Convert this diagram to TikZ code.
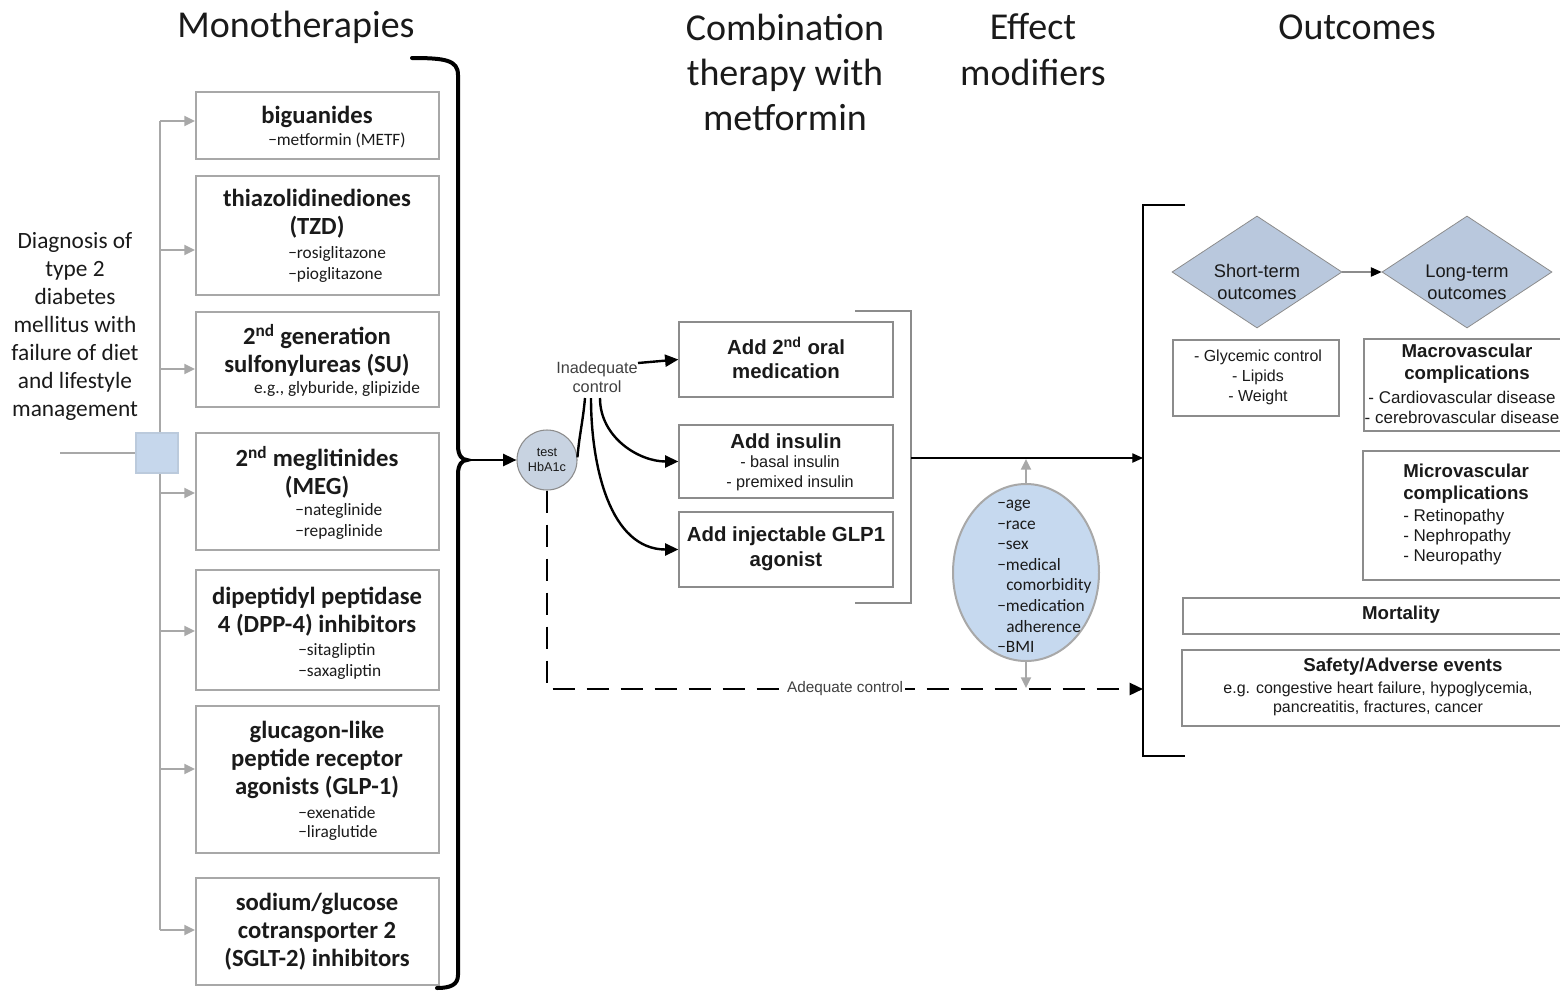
\documentclass[tikz,border=0pt]{standalone}
\usepackage{fontspec}
\setmainfont{Carlito}
\newfontfamily\arial{Liberation Sans}
\usetikzlibrary{arrows.meta,shapes.geometric,fit}
\newcommand{\myfs}[2]{\fontsize{#1}{#2}\selectfont}
\definecolor{lgray}{HTML}{A8A8A8}
\definecolor{mgray}{HTML}{8C8C8C}
\definecolor{sqblue}{HTML}{C6D7EC}
\definecolor{circfill}{HTML}{C8D3E1}
\definecolor{ellfill}{HTML}{C6D9EF}
\definecolor{diafill}{HTML}{B9C8DD}
\definecolor{ink}{HTML}{1A1A1A}
\begin{document}
\begin{tikzpicture}[x=0.75pt,y=-0.75pt,
  lbox/.style={draw=lgray, line width=1.5pt, inner sep=0pt},
  mbox/.style={draw=mgray, line width=0.9pt, inner sep=0pt},
  txt/.style={inner sep=0pt, align=center, text=ink},
  ttl/.style={txt, font=\myfs{28.5}{34}},
  lhead/.style={txt, font=\bfseries\myfs{18.5}{21}},
  lsub/.style={inner sep=0pt, align=left, anchor=west, text=ink, font=\myfs{13}{15.75}},
  gline/.style={draw=lgray, line width=1.5pt},
  garrow/.style={draw=lgray, line width=1.5pt, -{Triangle[length=8pt,width=7.5pt]}},
  karrow/.style={draw=black, line width=1.8pt, -{Triangle[length=10pt,width=9pt]}},
  tarrow/.style={draw=black, line width=0.8pt, -{Triangle[length=8pt,width=7pt]}},
  dline/.style={draw=black, line width=1.8pt, dash pattern=on 16.5pt off 9pt, -{Triangle[length=10pt,width=9pt]}},
  atxt/.style={txt, font=\arial\myfs{12}{15}},
  abold/.style={txt, font=\arial\bfseries\myfs{14}{16.5}}
]
\useasboundingbox (0,0) rectangle (1560,990);
\clip (0,0) rectangle (1560,990);

% titles
\node[ttl] (t1) at (296,27) {Monotherapies};
\node[ttl] (t2) at (785,72.5) {Combination\\therapy with\\metformin};
\node[ttl] (t3) at (1033,49.5) {Effect\\modifiers};
\node[ttl] (t4) at (1357,27) {Outcomes};

% diagnosis
\node[txt, font=\myfs{17.5}{21}] (dg) at (75,326) {Diagnosis of\\type 2\\diabetes\\mellitus with\\failure of diet\\and lifestyle\\management};

% left boxes
\node[lbox, fit={(196,92)(439,159)}] (b1) {};
\node[lhead] (b1h) at (317,117) {biguanides};
\node[lsub, anchor=center] (b1s) at (337,140) {−metformin (METF)};

\node[lbox, fit={(196,176)(439,295)}] (b2) {};
\node[lhead] (b2h) at (317,214) {thiazolidinediones\\(TZD)};
\node[lsub] (b2s) at (288,264.5) {−rosiglitazone\\−pioglitazone};

\node[lbox, fit={(196,312)(439,407)}] (b3) {};
\node[lhead] (b3h) at (317,350.5) {2\textsuperscript{nd} generation\\sulfonylureas (SU)};
\node[lsub, anchor=center] (b3s) at (337,389) {e.g., glyburide, glipizide};

\node[lbox, fit={(196,433)(439,550)}] (b4) {};
\node[lhead] (b4h) at (317,472.5) {2\textsuperscript{nd} meglitinides\\(MEG)};
\node[lsub] (b4s) at (295,521.5) {−nateglinide\\−repaglinide};

\node[lbox, fit={(196,570)(439,690)}] (b5) {};
\node[lhead] (b5h) at (317,612) {dipeptidyl peptidase\\4 (DPP-4) inhibitors};
\node[lsub] (b5s) at (298,661.5) {−sitagliptin\\−saxagliptin};

\node[lbox, fit={(196,706)(439,853)}] (b6) {};
\node[lhead] (b6h) at (317,760) {glucagon-like\\peptide receptor\\agonists (GLP-1)};
\node[lsub, font=\myfs{13}{14.25}] (b6s) at (298,823.5) {−exenatide\\−liraglutide};

\node[lbox, fit={(196,878)(439,985)}] (b7) {};
\node[lhead] (b7h) at (317,932) {sodium/glucose\\cotransporter 2\\(SGLT-2) inhibitors};

% tree
\coordinate (dstart) at (60,453);
\coordinate (vt) at (160,121);
\coordinate (vb) at (160,930);
\draw[gline] (vt) -- (vb);
\node[fill=sqblue, draw=sqblue!85!gray, line width=0.8pt, inner sep=0pt, fit={(136,433)(178,473)}] (sq) {};
\draw[gline] (dstart) -- (sq.west);
\foreach \n/\y in {1/121,2/250,3/369,4/493,5/631,6/769,7/930}{
  \coordinate (a\n) at (160,\y);
  \draw[garrow] (a\n) -- (a\n -| b\n.west);
}

% brace
\draw[line width=3pt, line cap=round] (412,58) .. controls (445,58) and (458,60) .. (458,75) -- (458,446) .. controls (458,455) and (462,460) .. (467,460) .. controls (462,460) and (458,465) .. (458,474) -- (458,975) .. controls (458,985) and (450,988) .. (437,988);
\coordinate (brtip) at (467,460);

% test circle
\node[circle, fill=circfill, draw=mgray, line width=0.8pt, minimum size=45pt, inner sep=0pt, align=center, text=ink, font=\arial\myfs{9.5}{11.25}] (hb) at (547,460) {test\\HbA1c};
\draw[karrow] (brtip) -- (hb.west);

% inadequate control
\node[txt, font=\arial\myfs{12.2}{14.25}, text=black!75] (ic) at (597,377.5) {Inadequate\\control};
\node[mbox, fit={(679,322)(893,397)}] (m1) {};
\node[txt, font=\arial\bfseries\myfs{15.3}{18}] (m1t) at (786,358) {Add 2\textsuperscript{nd} oral\\medication};
\node[mbox, fit={(679,425)(893,498)}] (m2) {};
\node[txt, font=\arial\bfseries\myfs{15.3}{18}] (m2t) at (786,441) {Add insulin};
\node[txt, font=\arial\myfs{12.2}{15}] (m2s) at (790,473.5) {- basal insulin\\- premixed insulin};
\node[mbox, fit={(679,512)(893,587)}] (m3) {};
\node[txt, font=\arial\bfseries\myfs{15.3}{18.75}] (m3t) at (786,548.5) {Add injectable GLP1\\agonist};

\coordinate (icr) at (638,363);
\coordinate (c1) at (585,398);
\coordinate (c2) at (591,398);
\coordinate (c3) at (600,398);
\draw[karrow] (icr) -- (m1.west);
\draw[line width=1.8pt] (hb.5) to[out=85,in=-95] (c1);
\draw[karrow] (c2) to[out=-90,in=180] (m3.west);
\draw[karrow] (c3) to[out=-90,in=180] (m2.west);

% thin bracket
\coordinate (bkt) at (855,311);
\coordinate (bkb) at (855,603);
\coordinate (bk) at (911,458);
\draw[draw=mgray, line width=0.9pt] (bkt) -- (911,311) -- (911,603) -- (bkb);
\coordinate (rbr) at (1143,458);
\draw[tarrow] (bk) -- (rbr);

% adequate control
\coordinate (rbr2) at (1143,689);
\draw[dline] (hb.south) |- (rbr2);
\node[fill=white, inner sep=1.5pt, text=black!75, font=\arial\myfs{11.5}{13}] (ac) at (845,689) {Adequate control};

% effect modifiers ellipse
\node[ellipse, fill=ellfill, draw=lgray, line width=1.5pt, minimum width=109.5pt, minimum height=132.75pt, inner sep=0pt] (em) at (1026,572.5) {};
\coordinate (eu) at (1026,459);
\coordinate (ed) at (1026,688);
\draw[garrow] (em.north) -- (eu);
\draw[garrow] (em.south) -- (ed);
\node[inner sep=0pt, align=left, anchor=west, text=ink, font=\myfs{13}{15.4}] (emt) at (997,576.5) {−age\\−race\\−sex\\−medical\\\hspace*{6.75pt}comorbidity\\−medication\\\hspace*{6.75pt}adherence\\−BMI};

% right bracket
\draw[line width=2.2pt] (1185,205) -- (1143,205) -- (1143,756) -- (1185,756);

% diamonds
\node[diamond, fill=diafill, draw=mgray, line width=0.6pt, minimum width=127.5pt, minimum height=84pt, inner sep=0pt] (st) at (1257,272) {};
\node[txt, font=\arial\myfs{13.7}{16.5}] (stt) at (1257,282) {Short-term\\outcomes};
\node[diamond, fill=diafill, draw=mgray, line width=0.6pt, minimum width=127.5pt, minimum height=84pt, inner sep=0pt] (lt) at (1467,272) {};
\node[txt, font=\arial\myfs{13.7}{16.5}] (ltt) at (1467,282) {Long-term\\outcomes};
\draw[draw=mgray, line width=0.8pt, -{Triangle[length=8pt,width=7pt,color=black]}] (st.east) -- (lt.west);

% outcome boxes
\node[mbox, fit={(1173,340)(1339,416)}] (gc) {};
\node[atxt] (gct) at (1258,377) {- Glycemic control\\- Lipids\\- Weight};

\node[mbox, fit={(1364,339)(1590,431)}] (mac) {};
\node[abold] (mach) at (1467,364) {Macrovascular\\complications};
\node[txt, font=\arial\myfs{12.75}{15}] (macs) at (1462,407) {- Cardiovascular disease\\- cerebrovascular disease};

\node[mbox, fit={(1363,451)(1590,580)}] (mic) {};
\node[abold, align=left, anchor=west] (mich) at (1403,484) {Microvascular\\complications};
\node[txt, align=left, anchor=west, font=\arial\myfs{12.75}{15}] (mics) at (1403,537) {- Retinopathy\\- Nephropathy\\- Neuropathy};

\node[mbox, fit={(1183,598)(1590,634)}] (mo) {};
\node[abold] (mot) at (1401,615) {Mortality};

\node[mbox, fit={(1182,650)(1590,726)}] (sa) {};
\node[abold] (sah) at (1403,667) {Safety/Adverse events};
\node[txt, font=\arial\myfs{12}{14.25}] (sas) at (1378,698.5) {e.g. congestive heart failure, hypoglycemia,\\pancreatitis, fractures, cancer};
\end{tikzpicture}
\end{document}
